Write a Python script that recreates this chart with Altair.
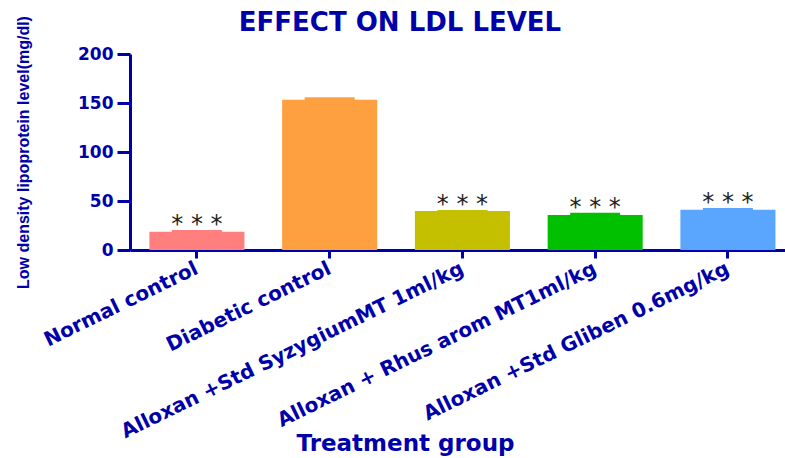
import altair as alt
import pandas as pd

groups = ["Normal control", "Diabetic control", "Alloxan +Std SyzygiumMT 1ml/kg",
          "Alloxan + Rhus arom MT1ml/kg", "Alloxan +Std Gliben 0.6mg/kg"]
means = [18.7, 153.4, 39.8, 35.7, 41.1]
sems = [1.7, 2.4, 1.0, 2.4, 1.8]
stars = ["* * *", "", "* * *", "* * *", "* * *"]
colors = ["#FF7F7F", "#FFA040", "#C4C000", "#00C000", "#5AA6FF"]
yticks = [0, 50, 100, 150, 200]
title_text = "EFFECT ON LDL LEVEL"

BLUE = "#0000AA"

df = pd.DataFrame({"group": groups, "mean": means, "sem": sems, "star": stars})
df["upper"] = df["mean"] + df["sem"]

xscale = alt.Scale(domain=groups, paddingInner=0.284, paddingOuter=0.109, align=0.67)
yscale = alt.Scale(domain=[0, 200], nice=False)
cscale = alt.Scale(domain=groups, range=colors)

xaxis = alt.Axis(
    title="Treatment group", labelAngle=-26, labelAlign="right", labelBaseline="middle",
    labelFont="DejaVu Sans", labelFontWeight="bold", labelFontSize=20, labelColor=BLUE,
    labelPadding=9, labelLimit=600, tickSize=8, tickWidth=3, tickColor=BLUE,
    domainColor=BLUE, domainWidth=3, titleFont="DejaVu Sans", titleFontWeight="bold",
    titleFontSize=23, titleColor=BLUE, titleX=275, titleY=182, titleBaseline="top",
    titleAlign="center", grid=False,
)
yaxis = alt.Axis(
    title="Low density lipoprotein level(mg/dl)", values=yticks,
    labelFont="DejaVu Sans", labelFontWeight="bold", labelFontSize=17, labelColor=BLUE,
    labelPadding=4, tickSize=13, tickWidth=3, tickColor=BLUE, domainColor=BLUE,
    domainWidth=3, titleFont="Liberation Sans", titleFontWeight="bold",
    titleFontSize=16, titleColor=BLUE, titleX=-107, titleY=98, titleAlign="center",
    titleBaseline="middle", titleAngle=270, grid=False,
)

base = alt.Chart(df)

bars = base.mark_bar().encode(
    x=alt.X("group:N", sort=groups, scale=xscale, axis=xaxis),
    y=alt.Y("mean:Q", scale=yscale, axis=yaxis),
    color=alt.Color("group:N", scale=cscale, legend=None),
)
caps = base.mark_bar(width=50).encode(
    x=alt.X("group:N", sort=groups, scale=xscale),
    y=alt.Y("upper:Q", scale=yscale),
    color=alt.Color("group:N", scale=cscale, legend=None),
)
text = base.mark_text(font="DejaVu Sans", fontSize=24, color="#222222",
                      baseline="alphabetic", dy=2).encode(
    x=alt.X("group:N", sort=groups, scale=xscale),
    y=alt.Y("upper:Q", scale=yscale),
    text="star:N",
)
title = alt.Chart(alt.Data(values=[{"t": title_text}])).mark_text(
    font="DejaVu Sans", fontWeight="bold", fontSize=26, color=BLUE,
    align="center", baseline="alphabetic",
).encode(x=alt.value(270), y=alt.value(-23), text="t:N")

chart = alt.layer(bars, caps, text, title).properties(
    width=655, height=196,
    autosize=alt.AutoSizeParams(type="none"),
    padding={"left": 130, "top": 54, "right": 0, "bottom": 208},
    background="white",
).configure_view(stroke=None)

chart.save("out.html", embed_options={"renderer": "svg", "actions": False})
